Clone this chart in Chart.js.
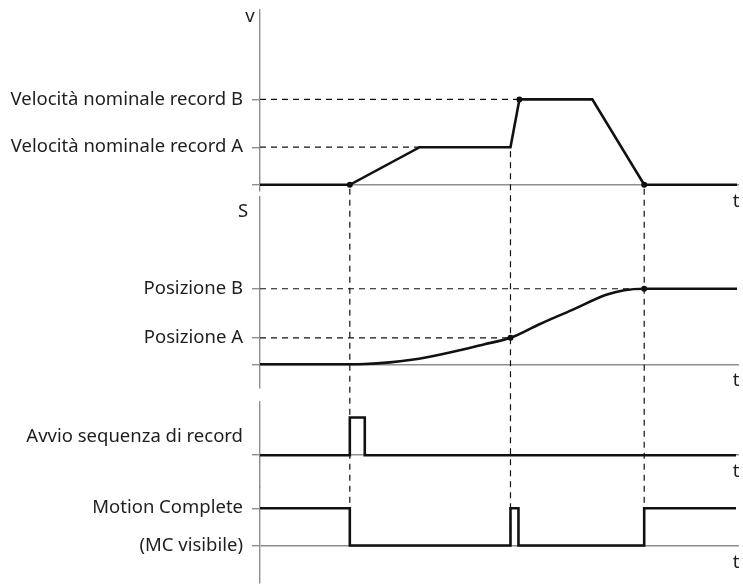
<!DOCTYPE html>
<html>
<head>
<meta charset="utf-8">
<title>Sequenza di record</title>
<script src="https://cdn.jsdelivr.net/npm/chart.js@4.4.0/dist/chart.umd.min.js"></script>
<style>
  body { margin: 0; background: #fff; }
  #wrap { position: relative; width: 743px; height: 587px; }
</style>
</head>
<body>
<div id="wrap"><canvas id="seqChart"></canvas></div>

<script>
  // time in arbitrary units, t = 0 at the vertical axis
  const tMax = 48

  // velocity v
  const speedA = 0.44
  const speedB = 1.0
  const speedTime = [0, 9.0, 16.0, 25.1, 26.0, 33.3, 38.5, 47.8]
  const speedValues = [0, 0, speedA, speedA, speedB, speedB, 0, 0]
  const speedDotTime = [9.0, 26.0, 38.5]
  const speedDotValues = [0, speedB, 0]

  // position S
  const posA = 0.35
  const posB = 1.0
  const posTime = [0, 9.0, 10.5, 13, 15, 17, 20, 22.5, 25.1, 28, 31.3, 34.7, 36.5, 38.5, 47.8]
  const posValues = [0, 0, 0.003, 0.025, 0.055, 0.10, 0.185, 0.265, posA, 0.53, 0.72, 0.92, 0.98, posB, posB]
  const posDotTime = [25.1, 38.5]
  const posDotValues = [posA, posB]

  // Avvio sequenza di record
  const startTime = [0, 9.0, 9.0, 10.5, 10.5, 47.7]
  const startValues = [0, 0, 1, 1, 0, 0]

  // Motion Complete
  const mcTime = [0, 9.0, 9.0, 25.1, 25.1, 25.9, 25.9, 38.5, 38.5, 47.7]
  const mcValues = [1, 1, 0, 0, 1, 1, 0, 0, 1, 1]

  // vertical dashed markers: time, level on v where they start, level on MC where they end
  const markerTime = [9.0, 25.1, 38.5]
  const markerFrom = [0, speedA, 0]
  const markerTo = [0, 0, 1]

  // horizontal dashed guides: level and time where they end
  const speedGuideLevel = [speedB, speedA]
  const speedGuideEnd = [26.0, 16.0]
  const posGuideLevel = [posB, posA]
  const posGuideEnd = [38.5, 25.1]

  // tick labels
  const speedTicks = [0, speedA, speedB]
  const speedLabels = ['', 'Velocità nominale record A', 'Velocità nominale record B']
  const posTicks = [0, posA, posB]
  const posLabels = ['', 'Posizione A', 'Posizione B']
  const startTicks = [0, 0.5]
  const startLabels = ['', 'Avvio sequenza di record']
  const mcTicks = [0, 1]
  const mcLabels = ['(MC visibile)', 'Motion Complete']

  const gray = '#8e8e8e'
  const ink = '#111'
  const font = { family: 'Noto Sans', size: 18.5 }

  function xy(xs, ys) {
    return xs.map((x, i) => ({ x: x, y: ys[i] }))
  }

  function guides(levels, ends, axis) {
    return levels.map((lv, i) => ({
      data: [{ x: 0, y: lv }, { x: ends[i], y: lv }],
      yAxisID: axis,
      borderColor: ink,
      borderWidth: 1.2,
      borderDash: [6, 5],
      pointRadius: 0
    }))
  }

  function trace(xs, ys, axis, extra) {
    return Object.assign({
      data: xy(xs, ys),
      yAxisID: axis,
      borderColor: ink,
      borderWidth: 2.6,
      pointRadius: 0,
      tension: 0
    }, extra || {})
  }

  function dots(xs, ys, axis) {
    return {
      data: xy(xs, ys),
      yAxisID: axis,
      showLine: false,
      pointRadius: 3,
      pointBackgroundColor: ink,
      pointBorderWidth: 0
    }
  }

  function panelAxis(order, weight, min, max, values, labels, hidden) {
    return {
      type: 'linear',
      position: 'left',
      stack: 'panels',
      stackWeight: weight,
      weight: order,
      min: min,
      max: max,
      afterBuildTicks: function (scale) {
        scale.ticks = values.map(v => ({ value: v }))
      },
      afterFit: function (scale) {
        scale.width = 260
        scale.paddingTop = 0
        scale.paddingBottom = 0
      },
      ticks: {
        autoSkip: false,
        padding: 9,
        color: '#1e1e1e',
        font: font,
        callback: (value, index) => labels[index]
      },
      grid: {
        drawTicks: true,
        tickLength: 8,
        lineWidth: 1.4,
        color: ctx => (ctx.tick && ctx.tick.value === 0 ? gray : 'rgba(0,0,0,0)'),
        tickColor: ctx => (hidden && ctx.tick && hidden.includes(ctx.tick.value) ? 'rgba(0,0,0,0)' : gray),
        tickWidth: 1.4
      },
      border: { display: true, color: gray, width: 1.4 }
    }
  }

  function spacer(order, weight) {
    return {
      type: 'linear',
      position: 'left',
      stack: 'panels',
      stackWeight: weight,
      weight: order,
      min: 0,
      max: 1,
      grid: { display: false },
      ticks: { display: false },
      border: { display: false }
    }
  }

  const overlay = {
    id: 'overlay',
    beforeDatasetsDraw(chart) {
      const { ctx, scales } = chart
      ctx.save()
      ctx.strokeStyle = ink
      ctx.lineWidth = 1.2
      ctx.setLineDash([6, 5])
      markerTime.forEach((t, i) => {
        const x = scales.x.getPixelForValue(t)
        ctx.beginPath()
        ctx.moveTo(x, scales.yV.getPixelForValue(markerFrom[i]) + 4)
        ctx.lineTo(x, scales.yMC.getPixelForValue(markerTo[i]))
        ctx.stroke()
      })
      ctx.restore()
    },
    afterDraw(chart) {
      const { ctx, scales, chartArea } = chart
      ctx.save()
      ctx.fillStyle = '#1e1e1e'
      ctx.font = '18.5px "Noto Sans"'
      ctx.textAlign = 'center'
      ctx.textBaseline = 'middle'
      ;['yV', 'yS', 'yStart', 'yMC'].forEach(id => {
        ctx.fillText('t', chartArea.right - 3, scales[id].getPixelForValue(0) + 17)
      })
      ctx.fillText('v', chartArea.left - 10, scales.yV.top + 7)
      ctx.fillText('S', chartArea.left - 17, scales.yS.top + 15)
      ctx.restore()
    }
  }

  const datasets = []
    .concat(guides(speedGuideLevel, speedGuideEnd, 'yV'))
    .concat(guides(posGuideLevel, posGuideEnd, 'yS'))
    .concat([
      trace(speedTime, speedValues, 'yV'),
      dots(speedDotTime, speedDotValues, 'yV'),
      trace(posTime, posValues, 'yS', { cubicInterpolationMode: 'monotone' }),
      dots(posDotTime, posDotValues, 'yS'),
      trace(startTime, startValues, 'yStart'),
      trace(mcTime, mcValues, 'yMC')
    ])

  new Chart(document.getElementById('seqChart'), {
    type: 'line',
    data: { datasets: datasets },
    options: {
      responsive: true,
      maintainAspectRatio: false,
      animation: false,
      layout: { padding: { top: 10, right: 3, bottom: 0, left: 0 } },
      plugins: { legend: { display: false }, tooltip: { enabled: false } },
      scales: {
        x: { type: 'linear', min: 0, max: tMax, display: false },
        yV: panelAxis(6, 182, -6 / 86, 176 / 86, speedTicks, speedLabels),
        gap1: spacer(5, 6),
        yS: panelAxis(4, 192, -23.3 / 76, 168.7 / 76, posTicks, posLabels),
        gap2: spacer(3, 14),
        yStart: panelAxis(2, 86, -31.7 / 38, 54.3 / 38, startTicks, startLabels, [0.5]),
        yMC: panelAxis(1, 97, -37.7 / 37.6, 59.3 / 37.6, mcTicks, mcLabels)
      }
    },
    plugins: [overlay]
  })
</script>
</body>
</html>
